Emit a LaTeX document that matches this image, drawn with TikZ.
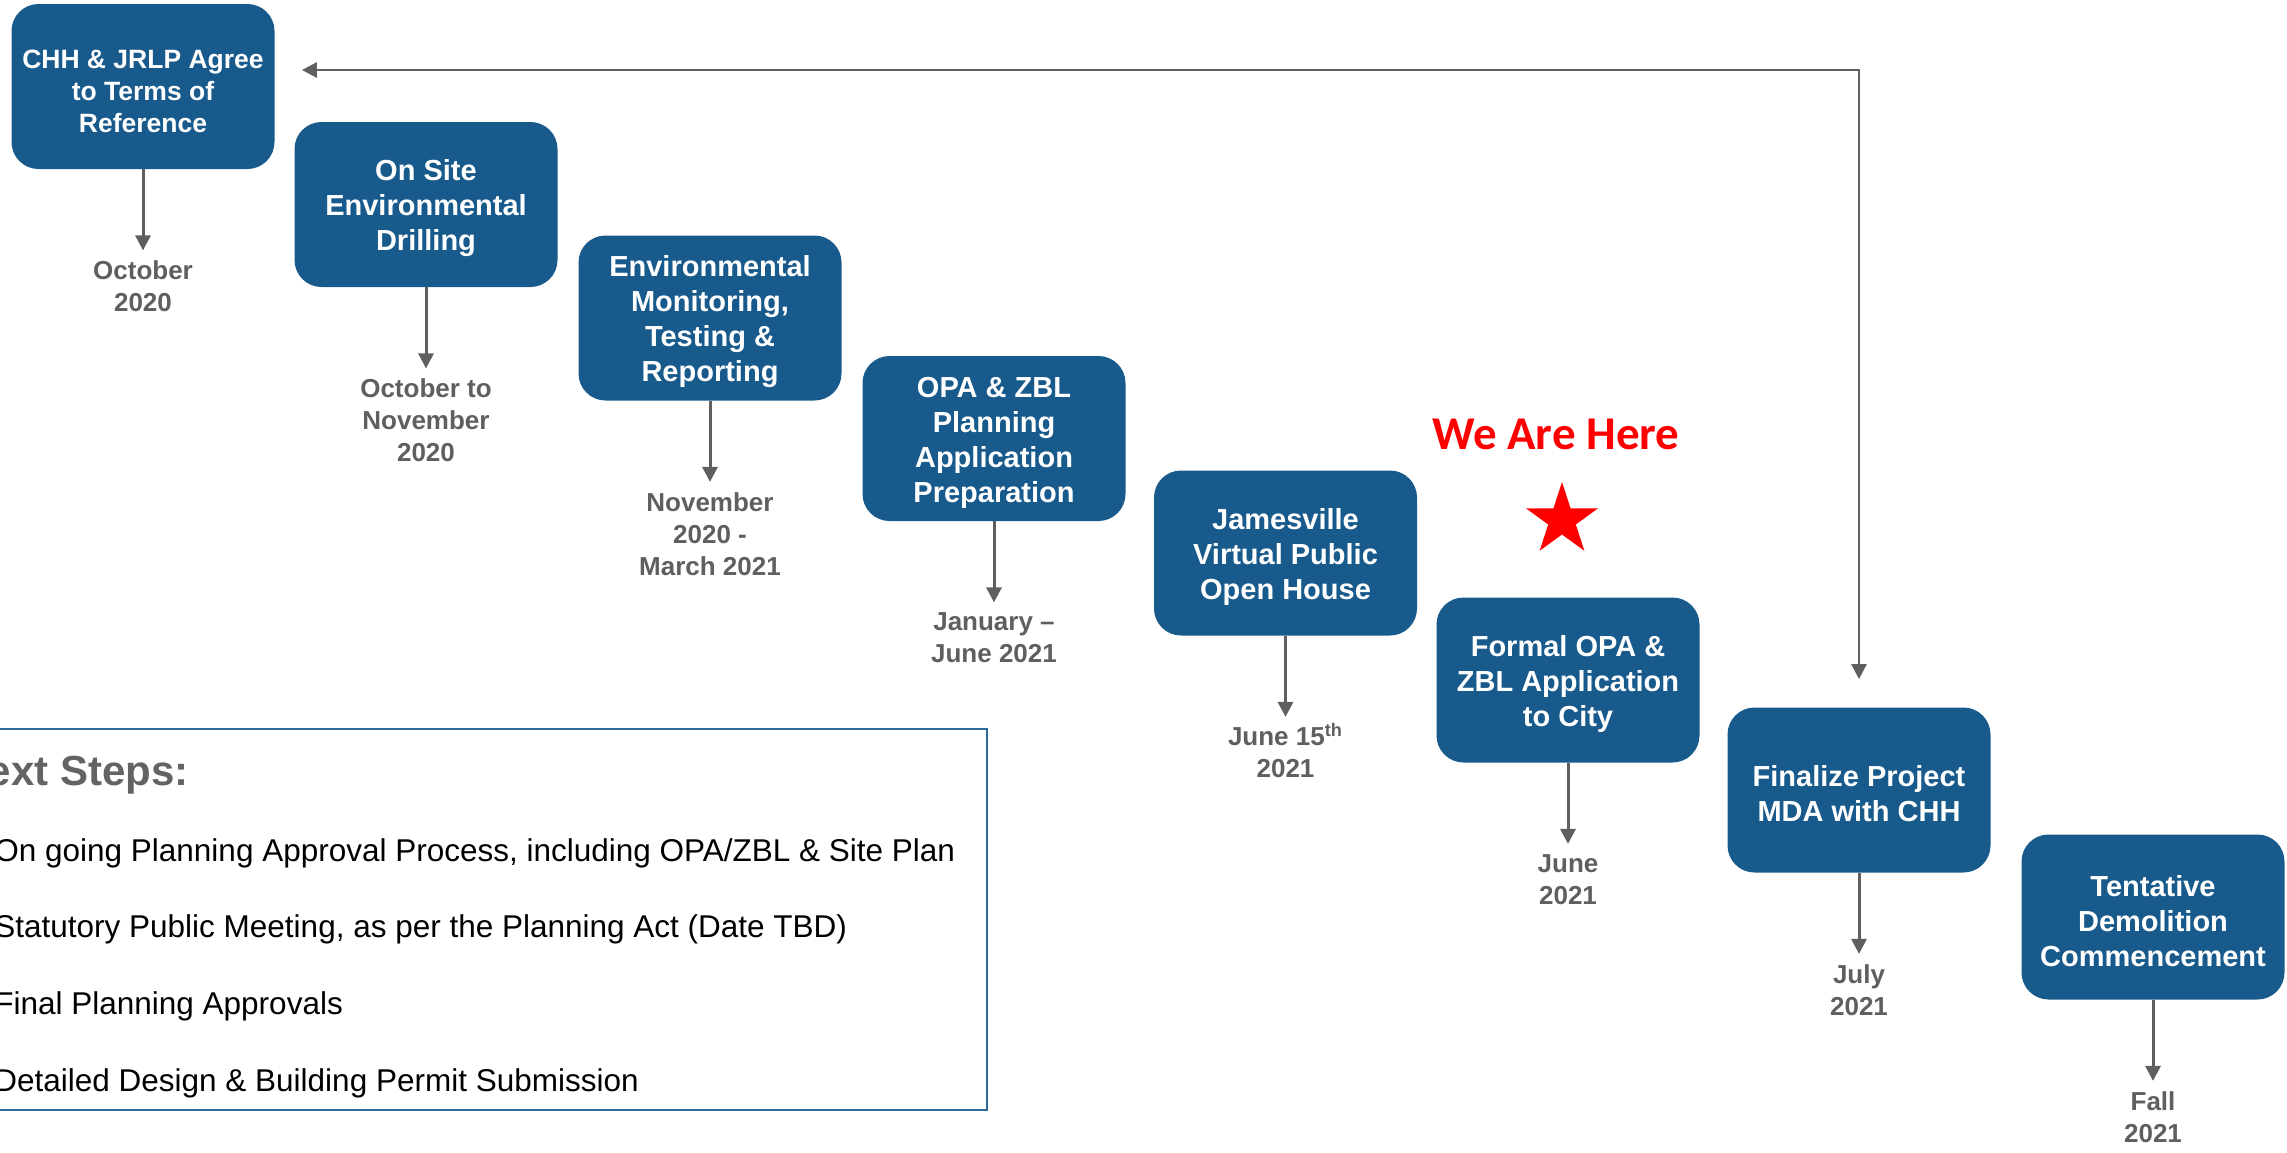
\documentclass[tikz,border=0pt]{standalone}
\usepackage{fontspec}
\setmainfont{Liberation Sans}
\newfontfamily\calibrifont{Carlito}
\usetikzlibrary{positioning,shapes.geometric,arrows.meta}
\definecolor{boxBlue}{HTML}{175A8B}
\definecolor{dateGray}{HTML}{5F5F5F}
\definecolor{titleGray}{HTML}{636363}
\definecolor{frameBlue}{HTML}{2B6A9B}
\newcommand{\boxstrut}{\rule{0pt}{14.5pt}}

\begin{document}
\begin{tikzpicture}
[x=0.5pt,y=-0.5pt,
  boxDecorate/.style={shape=rectangle,rounded corners=13.5pt,fill=boxBlue,text=white,
    minimum width=131.5pt,minimum height=82.5pt,inner sep=0pt,align=center,
    font=\bfseries\fontsize{14.5}{17.5}\selectfont},%
  dateDecorate/.style={align=center,inner sep=5pt,text=dateGray,
    font=\bfseries\fontsize{13}{16}\selectfont},%
  lineDecorate/.style={-{Triangle[width=7.5pt,length=7.5pt]},line width=1.5pt,draw=dateGray},%
  loopDecorate/.style={{Triangle[width=7.5pt,length=7.5pt]}-{Triangle[width=7.5pt,length=7.5pt]},
    line width=1.4pt,draw=dateGray},%
  stepDecorate/.style={anchor=base west,inner sep=0pt,font=\fontsize{15.75}{18}\selectfont}]
\useasboundingbox (0,0) rectangle (2287,1152);
\clip (0,0) rectangle (2287,1152);
%% milestone boxes
\node (chh) at (143,86.5) [boxDecorate,font=\bfseries\fontsize{13.25}{16}\selectfont]
  {\boxstrut CHH \& JRLP Agree\\to Terms of\\Reference};
\foreach \nodename/\x/\y/\boxtext in {drill/426/204.5/{On Site\\Environmental\\Drilling},
  monitor/710/318/{Environmental\\Monitoring,\\Testing \&\\Reporting},
  prep/994/438.5/{OPA \& ZBL\\Planning\\Application\\Preparation},
  house/1285.5/553/{Jamesville\\Virtual Public\\Open House},
  formal/1568/680/{Formal OPA \&\\ZBL Application\\to City},
  mda/1859/790/{Finalize Project\\MDA with CHH},
  demo/2153/917/{Tentative\\Demolition\\Commencement}}
{
  \node (\nodename) at (\x,\y) [boxDecorate] {\boxstrut\boxtext};
}
%% dates under the boxes
\foreach \nodename/\datetext in {chh/{October\\2020}, drill/{October to\\November\\2020},
  monitor/{November\\2020 -\\March 2021}, prep/{January –\\June 2021},
  house/{June 15\smash{\textsuperscript{th}}\\2021}, formal/{June\\2021}, mda/{July\\2021},
  demo/{Fall\\2021}}
{
  \node (\nodename_date) [dateDecorate,below=40.5pt of \nodename] {\datetext};
}
%% arrows box to date
\path
\foreach \startnode in {chh,drill,monitor,prep,house,formal,mda,demo}
{
  (\startnode) edge[lineDecorate] (\startnode_date)
};
%% loop back to the start
\coordinate (turn) at (1859,70);
\draw[loopDecorate,shorten <=13.5pt,shorten >=14pt] (chh.east |- turn) -- (turn) -- (mda.north);
%% current position
\node (here) at (1556,449) [anchor=base,inner sep=0pt,text=red,
  font=\calibrifont\bfseries\fontsize{23.5}{28}\selectfont] {We Are Here};
\node (star) at (1562,520) [star,star points=5,star point ratio=2.618,fill=red,
  minimum size=38pt,inner sep=0pt] {};
%% next steps
\node (steps) at (473.5,919.5) [draw=frameBlue,line width=1pt,minimum width=513.5pt,
  minimum height=190.5pt,inner sep=0pt] {};
\node (title) at (-43,785) [anchor=base west,inner sep=0pt,text=titleGray,
  font=\bfseries\fontsize{21}{25}\selectfont] {Next Steps:};
\foreach \y/\steptext in {861/{On going Planning Approval Process, including OPA/ZBL \& Site Plan},
  937.5/{Statutory Public Meeting, as per the Planning Act (Date TBD)},
  1014/{Final Planning Approvals},
  1091/{Detailed Design \& Building Permit Submission}}
{
  \node (next\y) at (-6,\y) [stepDecorate] {\steptext};
}
\end{tikzpicture}
\end{document}
